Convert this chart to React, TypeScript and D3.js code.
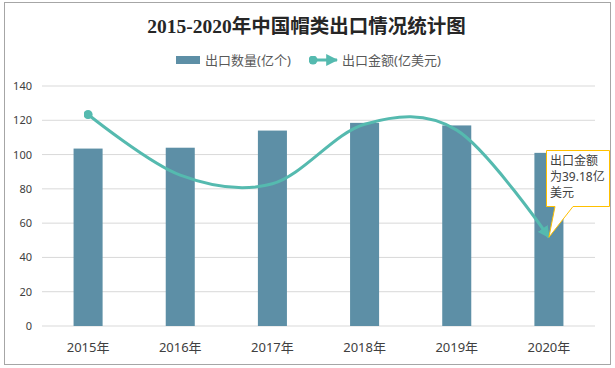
import React from 'react';
import * as d3 from 'd3';

// chart data
const years = ['2015年', '2016年', '2017年', '2018年', '2019年', '2020年'];
const quantity = [103.5, 104, 114, 118.5, 117, 101]; // 出口数量(亿个)
const amount = [93.4, 66.6, 62.8, 89.1, 86.5, 39.18]; // 出口金额(亿美元)
const yTicks = [0, 20, 40, 60, 80, 100, 120, 140];

const W = 615;
const H = 368;
const FONT = '"Noto Sans", "Noto Sans CJK SC", sans-serif';
const BAR = '#5D8FA6';
const LINE = '#55BAAF';

export default function App() {
  const x = d3.scaleBand<string>().domain(years).range([42, 595]).padding(0);
  const y = d3.scaleLinear().domain([0, 140]).range([326, 86]);
  // hidden secondary axis for the amount line
  const y2 = d3.scaleLinear().domain([0, 106]).range([326, 86]);

  const bw = x.bandwidth() * 0.315;
  const cx = (d: string) => (x(d) as number) + x.bandwidth() / 2;

  const line = d3
    .line<number>()
    .x((d, i) => cx(years[i]))
    .y((d) => y2(d))
    .curve(d3.curveCardinal.tension(0));

  // callout for the last point
  const tipX = cx(years[5]);
  const tipY = y2(amount[5]);
  const bx0 = 546.5, by0 = 150.5, bx1 = 609.5, by1 = 206.5;
  const callout =
    `M${bx0},${by0}H${bx1}V${by1}H${573}L${tipX},${tipY}L${555},${by1}H${bx0}Z`;

  return (
    <svg width={W} height={H} style={{ position: 'absolute', left: 0, top: 0, display: 'block' }}>
      <defs>
        <marker id="arrow" viewBox="0 0 10 10" refX="9" refY="5" markerWidth="4" markerHeight="4" orient="auto">
          <path d="M0,0L10,5L0,10Z" fill={LINE} />
        </marker>
        <marker id="dot" viewBox="0 0 10 10" refX="5" refY="5" markerWidth="3" markerHeight="3">
          <circle cx="5" cy="5" r="5" fill={LINE} />
        </marker>
      </defs>
      <rect x={0} y={0} width={W} height={H} fill="#fff" />
      <rect x={4.5} y={2.5} width={606} height={362} fill="#fff" stroke="#a6a6a6" />

      <text x={306.5} y={33} textAnchor="middle" fontSize={19.5} fontWeight="bold"
        fontFamily='"Liberation Serif", "Noto Sans CJK SC", serif' fill="#262626">
        2015-2020年中国帽类出口情况统计图
      </text>

      {/* legend */}
      <rect x={176} y={56} width={24} height={8} fill={BAR} />
      <text x={205} y={64.5} fontSize={13} fontFamily={FONT} fill="#595959">出口数量(亿个)</text>
      <line x1={313} y1={60} x2={337} y2={60} stroke={LINE} strokeWidth={3}
        markerStart="url(#dot)" markerEnd="url(#arrow)" />
      <text x={342} y={64.5} fontSize={13} fontFamily={FONT} fill="#595959">出口金额(亿美元)</text>

      {/* grid + y ticks */}
      {yTicks.map((t) => (
        <g key={t}>
          <line x1={42} x2={595} y1={y(t)} y2={y(t)} stroke="#d9d9d9" strokeWidth={1} />
          <text x={32} y={y(t) + 4} textAnchor="end" fontSize={11} fontFamily={FONT} fill="#404040">{t}</text>
        </g>
      ))}

      {/* bars */}
      {years.map((d, i) => (
        <rect key={d} x={cx(d) - bw / 2} y={y(quantity[i])} width={bw}
          height={y(0) - y(quantity[i])} fill={BAR} />
      ))}

      {/* x labels */}
      {years.map((d) => (
        <text key={d} x={cx(d)} y={352} textAnchor="middle" fontSize={13} fontFamily={FONT} fill="#404040">{d}</text>
      ))}

      {/* amount line */}
      <path d={line(amount) as string} fill="none" stroke={LINE} strokeWidth={3}
        markerStart="url(#dot)" markerEnd="url(#arrow)" />

      {/* callout */}
      <path d={callout} fill="#fff" stroke="#FFC000" strokeWidth={1} />
      <text fontSize={12} fontFamily={FONT} fill="#404040">
        <tspan x={550} y={165}>出口金额</tspan>
        <tspan x={550} y={181}>为39.18亿</tspan>
        <tspan x={550} y={197}>美元</tspan>
      </text>
    </svg>
  );
}
